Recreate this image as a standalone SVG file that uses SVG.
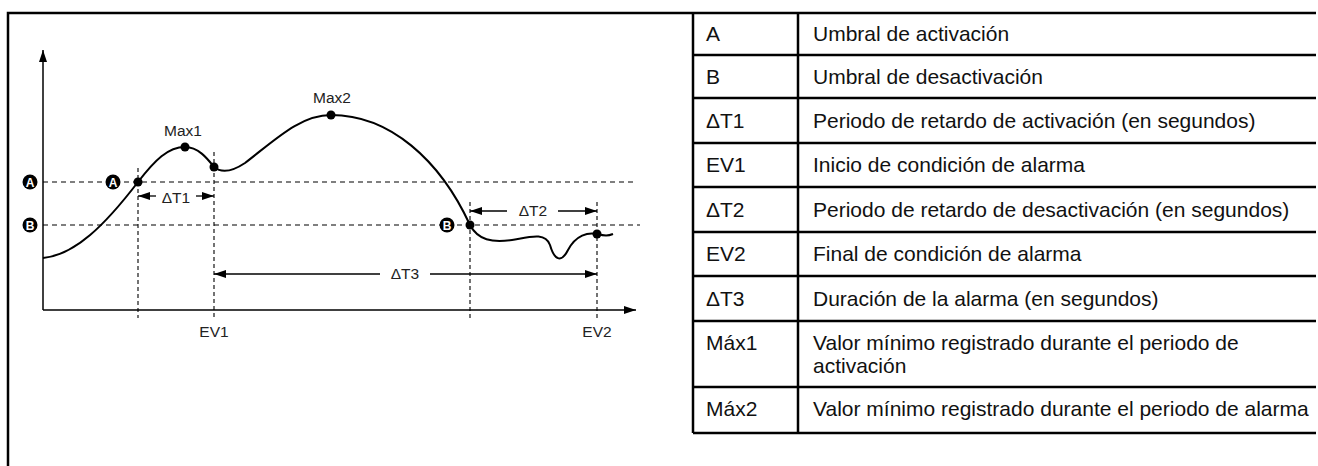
<svg xmlns="http://www.w3.org/2000/svg" width="1318" height="466" viewBox="0 0 1318 466">
<style>
.frame{stroke:#000;stroke-width:2.5;fill:none}
.axis{stroke:#000;stroke-width:1.5;fill:none}
.dash{stroke:#000;stroke-width:1.1;stroke-dasharray:5,4;fill:none}
.vdash{stroke:#000;stroke-width:1.1;stroke-dasharray:4,3;fill:none}
.arr{stroke:#000;stroke-width:1.3;fill:none}
.curve{stroke:#000;stroke-width:2;fill:none}
.lbl{font-family:"Liberation Sans",Arial,sans-serif;font-size:15.5px;fill:#222}
.mid{text-anchor:middle}
.tt{font-family:"Liberation Sans",Arial,sans-serif;font-size:21px;fill:#111}
.badge{fill:#000}
.btxt{font-family:"Liberation Sans",Arial,sans-serif;font-size:12px;font-weight:bold;fill:#fff;text-anchor:middle}
</style>
<defs>
<marker id="ah" viewBox="0 0 12 8" refX="12" refY="4" markerWidth="12" markerHeight="8" markerUnits="userSpaceOnUse" orient="auto-start-reverse">
<path d="M0,0 L12,4 L0,8 Z" fill="#000"/>
</marker>
</defs>
<g id="frame">
<path class="frame" d="M8,466 V13 H693"/>
</g>
<g id="chart">
<path class="axis" d="M43,310 V50" marker-end="url(#ah)"/>
<path class="axis" d="M43,310 H636" marker-end="url(#ah)"/>
<path class="dash" d="M43,182 H637"/>
<path class="dash" d="M43,225 H640"/>
<path class="vdash" d="M138,168 V318"/>
<path class="vdash" d="M214,152 V318"/>
<path class="vdash" d="M470,202 V318"/>
<path class="vdash" d="M597,202 V318"/>
<path class="curve" d="M43,258 C75,255 105,225 138,182 C155,160 168,147 185,147 C198,147 207,158 214,167 C220,172 230,173 245,163 C275,140 300,115 331,115 C390,115 440,160 470,225 C478,240 492,243 512,240 C530,237 545,232 550,245 C555,262 562,262 568,250 C576,235 588,232 597,234 C605,236 608,236 613,234"/>
</g>
<g id="points">
<circle cx="138" cy="182" r="4.5"/>
<circle cx="185" cy="147" r="4.5"/>
<circle cx="214" cy="167" r="4.5"/>
<circle cx="331" cy="115" r="4.5"/>
<circle cx="470" cy="225" r="4.5"/>
<circle cx="597" cy="234" r="4.5"/>
</g>
<g id="badges">
<circle class="badge" cx="30" cy="182" r="7.5"/><text class="btxt" x="30" y="186.5">A</text>
<circle class="badge" cx="113" cy="182" r="7.5"/><text class="btxt" x="113" y="186.5">A</text>
<circle class="badge" cx="30" cy="225" r="7.5"/><text class="btxt" x="30" y="229.5">B</text>
<circle class="badge" cx="447" cy="225" r="7.5"/><text class="btxt" x="447" y="229.5">B</text>
</g>
<g id="connectors">
<path class="arr" d="M156,196 H138" marker-end="url(#ah)"/>
<path class="arr" d="M196,196 H214" marker-end="url(#ah)"/>
<path class="arr" d="M507,211 H470" marker-end="url(#ah)"/>
<path class="arr" d="M558,211 H597" marker-end="url(#ah)"/>
<path class="arr" d="M380,274 H214" marker-end="url(#ah)"/>
<path class="arr" d="M430,274 H597" marker-end="url(#ah)"/>
</g>
<g id="labels">
<text class="lbl mid" x="183" y="136">Max1</text>
<text class="lbl mid" x="332" y="103">Max2</text>
<text class="lbl mid" x="176" y="203">ΔT1</text>
<text class="lbl mid" x="533" y="216">ΔT2</text>
<text class="lbl mid" x="405" y="279">ΔT3</text>
<text class="lbl mid" x="214" y="337">EV1</text>
<text class="lbl mid" x="597" y="337">EV2</text>
</g>
<g id="table">
<path class="frame" d="M693,13 V433 M798,13 V433 M693,13 H1316 M693,55 H1316 M693,98 H1316 M693,143 H1316 M693,187 H1316 M693,232 H1316 M693,276 H1316 M693,321 H1316 M693,387 H1316 M693,433 H1316"/>
<text class="tt" x="706" y="41">A</text><text class="tt" x="813" y="41">Umbral de activación</text>
<text class="tt" x="706" y="84">B</text><text class="tt" x="813" y="84">Umbral de desactivación</text>
<text class="tt" x="706" y="128">ΔT1</text><text class="tt" x="813" y="128">Periodo de retardo de activación (en segundos)</text>
<text class="tt" x="706" y="172">EV1</text><text class="tt" x="813" y="172">Inicio de condición de alarma</text>
<text class="tt" x="706" y="217">ΔT2</text><text class="tt" x="813" y="217">Periodo de retardo de desactivación (en segundos)</text>
<text class="tt" x="706" y="261">EV2</text><text class="tt" x="813" y="261">Final de condición de alarma</text>
<text class="tt" x="706" y="306">ΔT3</text><text class="tt" x="813" y="306">Duración de la alarma (en segundos)</text>
<text class="tt" x="706" y="350">Máx1</text><text class="tt" x="813" y="350">Valor mínimo registrado durante el periodo de</text>
<text class="tt" x="813" y="373">activación</text>
<text class="tt" x="706" y="416">Máx2</text><text class="tt" x="813" y="416">Valor mínimo registrado durante el periodo de alarma</text>
</g>
</svg>
